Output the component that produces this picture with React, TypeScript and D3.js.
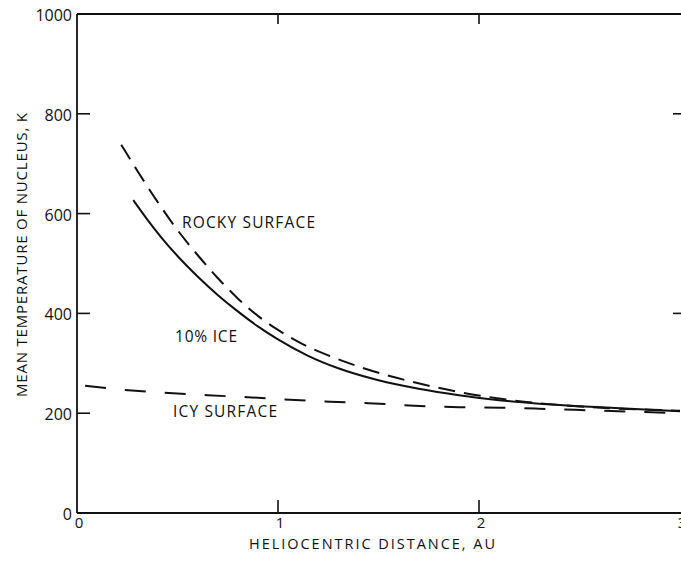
import React from "react";
import * as d3 from "d3";

// Heliocentric distance (AU) vs mean nucleus temperature (K)
const rockySurface: [number, number][] = [
  [0.22, 738], [0.3, 686], [0.4, 624], [0.5, 567], [0.6, 517], [0.7, 471],
  [0.8, 430], [0.9, 395], [1.0, 367], [1.12, 339], [1.28, 311], [1.42, 291],
  [1.57, 273], [1.74, 256], [1.92, 241], [2.09, 230], [2.27, 221], [2.45, 215],
  [2.65, 210], [2.85, 207], [3.0, 205],
];

const tenPctIce: [number, number][] = [
  [0.28, 627], [0.35, 588], [0.42, 552], [0.5, 515], [0.6, 474], [0.7, 437],
  [0.8, 404], [0.9, 374], [1.0, 348], [1.15, 315], [1.3, 290], [1.5, 266],
  [1.7, 249], [1.9, 236], [2.1, 226], [2.3, 219], [2.5, 214], [2.7, 210],
  [3.0, 204],
];

const icySurface: [number, number][] = [
  [0.04, 255], [0.23, 247], [0.43, 241], [0.65, 236], [0.85, 232], [1.06, 227],
  [1.26, 223], [1.45, 220], [1.68, 215], [1.9, 212], [2.11, 211], [2.3, 209],
  [2.6, 205], [3.0, 200],
];

const xTicks = [0, 1, 2, 3];
const yTicks = [0, 200, 400, 600, 800, 1000];
const yInnerTicks = [200, 400, 600, 800];
const rightTicks = [400, 800];
const topTicks = [1, 2];

const xTitle = "HELIOCENTRIC DISTANCE, AU";
const yTitle = "MEAN TEMPERATURE OF NUCLEUS, K";

const FONT = "'Open Sans', 'DejaVu Sans', sans-serif";
const INK = "#111";

export default function App() {
  const W = 681;
  const H = 563;
  const x = d3.scaleLinear().domain([0, 3]).range([77, 680]);
  const y = d3.scaleLinear().domain([0, 1000]).range([513, 14]);

  const line = d3
    .line<[number, number]>()
    .x((d) => x(d[0]))
    .y((d) => y(d[1]))
    .curve(d3.curveMonotoneX);

  const x0 = x(0);
  const x3 = x(3) + 3;
  const tickLen = 13;

  return (
    <svg
      width={W}
      height={H}
      viewBox={`0 0 ${W} ${H}`}
      style={{ position: "absolute", left: 0, top: 0, background: "#fff" }}
      fontFamily={FONT}
    >
      <rect x={0} y={0} width={W} height={H} fill="#fff" />

      {/* frame */}
      <g stroke={INK} strokeWidth={1.8} fill="none">
        <line x1={x0} y1={y(1000)} x2={x0} y2={y(0)} />
        <line x1={x0} y1={y(0)} x2={x3} y2={y(0)} />
        <line x1={x0} y1={y(1000)} x2={x3} y2={y(1000)} />
        <line x1={x3} y1={y(1000)} x2={x3} y2={y(0)} />
      </g>

      {/* ticks */}
      <g stroke={INK} strokeWidth={1.6}>
        {yInnerTicks.map((t) => (
          <line key={"l" + t} x1={x0} x2={x0 + tickLen} y1={y(t)} y2={y(t)} />
        ))}
        {rightTicks.map((t) => (
          <line key={"r" + t} x1={x3 - 10} x2={x3} y1={y(t)} y2={y(t)} />
        ))}
        {topTicks.map((t) => (
          <React.Fragment key={"t" + t}>
            <line x1={x(t)} x2={x(t)} y1={y(1000)} y2={y(1000) + 10} />
            <line x1={x(t)} x2={x(t)} y1={y(0)} y2={y(0) - tickLen} />
          </React.Fragment>
        ))}
      </g>

      {/* tick labels */}
      <g fill={INK} fontSize={16}>
        {yTicks.map((t) => (
          <text key={"yl" + t} x={72} y={y(t) + 1} textAnchor="end" dominantBaseline="central">
            {t}
          </text>
        ))}
      </g>
      <g fill={INK} fontSize={15}>
        {xTicks.map((t) => (
          <text key={"xl" + t} x={x(t) + 2} y={528} textAnchor="middle">
            {t}
          </text>
        ))}
      </g>

      {/* axis titles */}
      <text x={249} y={549} fontSize={14.5} fill={INK} textLength={246} lengthAdjust="spacing">
        {xTitle}
      </text>
      <text
        transform="translate(27,397) rotate(-90)"
        x={0}
        y={0}
        fontSize={15}
        fill={INK}
        textLength={284}
        lengthAdjust="spacing"
      >
        {yTitle}
      </text>

      {/* curves */}
      <g fill="none" stroke={INK} strokeWidth={2}>
        <path d={line(rockySurface) ?? ""} strokeDasharray="17 9" />
        <path d={line(tenPctIce) ?? ""} />
        <path d={line(icySurface) ?? ""} strokeDasharray="21 19" />
      </g>

      {/* curve labels */}
      <g fill={INK} fontSize={15.5}>
        <text x={182} y={228} textLength={133} lengthAdjust="spacing">ROCKY SURFACE</text>
        <text x={175} y={342} textLength={62} lengthAdjust="spacing">10% ICE</text>
        <text x={173} y={417} textLength={104} lengthAdjust="spacing">ICY SURFACE</text>
      </g>
    </svg>
  );
}
